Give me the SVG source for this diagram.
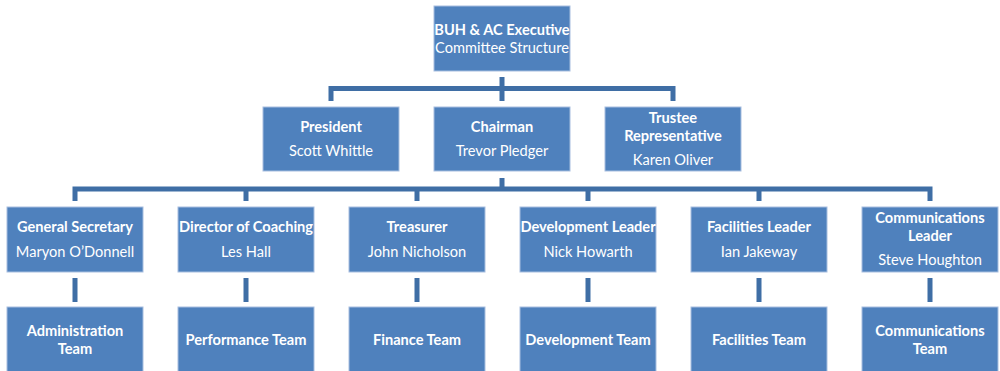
<svg xmlns="http://www.w3.org/2000/svg" width="1000" height="371" viewBox="0 0 1000 371">
<style>
.box{fill:#4F81BD;stroke:#A7BEDF;stroke-width:1}
.ln{fill:none;stroke:#3F6EA5;stroke-width:5;stroke-linejoin:miter;stroke-linecap:butt}
text{font-family:Lato,"Open Sans","Liberation Sans",sans-serif;font-size:14.6px;fill:#FFFFFF;text-anchor:middle}
.b{font-weight:bold}
</style>
<rect width="1000" height="371" fill="#FFFFFF"/>
<g id="connectors">
<path class="ln" d="M502,77 V88.5 M331,101 V88.5 H673 V101 M502,88.5 V101"/>
<path class="ln" d="M502,178 V189 M75,201 V189 H930 V201 M246,189 V201 M417,189 V201 M588,189 V201 M759,189 V201"/>
<path class="ln" d="M75,278 V302 M246,278 V302 M417,278 V302 M588,278 V302 M759,278 V302 M930,278 V302"/>
</g>
<g id="root"><rect class="box" x="434" y="6" width="136" height="65"/><text x="502" y="35" class="b">BUH &amp; AC Executive</text><text x="502" y="53">Committee Structure</text></g>
<g id="president"><rect class="box" x="263" y="107" width="136" height="64"/><text x="331" y="132" class="b">President</text><text x="331" y="156">Scott Whittle</text></g>
<g id="chairman"><rect class="box" x="434" y="107" width="136" height="64"/><text x="502" y="132" class="b">Chairman</text><text x="502" y="156">Trevor Pledger</text></g>
<g id="trustee"><rect class="box" x="605" y="107" width="136" height="64"/><text x="673" y="123" class="b">Trustee</text><text x="673" y="141" class="b">Representative</text><text x="673" y="165">Karen Oliver</text></g>
<g id="gensec"><rect class="box" x="7" y="207" width="136" height="65"/><text x="75" y="232" class="b">General Secretary</text><text x="75" y="257">Maryon O’Donnell</text></g>
<g id="coaching"><rect class="box" x="178" y="207" width="136" height="65"/><text x="246" y="232" class="b">Director of Coaching</text><text x="246" y="257">Les Hall</text></g>
<g id="treasurer"><rect class="box" x="349" y="207" width="136" height="65"/><text x="417" y="232" class="b">Treasurer</text><text x="417" y="257">John Nicholson</text></g>
<g id="devleader"><rect class="box" x="520" y="207" width="136" height="65"/><text x="588" y="232" class="b">Development Leader</text><text x="588" y="257">Nick Howarth</text></g>
<g id="facleader"><rect class="box" x="691" y="207" width="136" height="65"/><text x="759" y="232" class="b">Facilities Leader</text><text x="759" y="257">Ian Jakeway</text></g>
<g id="commleader"><rect class="box" x="862" y="207" width="136" height="65"/><text x="930" y="223" class="b">Communications</text><text x="930" y="241" class="b">Leader</text><text x="930" y="265">Steve Houghton</text></g>
<g id="adminteam"><rect class="box" x="7" y="307" width="136" height="65"/><text x="75" y="336" class="b">Administration</text><text x="75" y="354" class="b">Team</text></g>
<g id="perfteam"><rect class="box" x="178" y="307" width="136" height="65"/><text x="246" y="345" class="b">Performance Team</text></g>
<g id="finteam"><rect class="box" x="349" y="307" width="136" height="65"/><text x="417" y="345" class="b">Finance Team</text></g>
<g id="devteam"><rect class="box" x="520" y="307" width="136" height="65"/><text x="588" y="345" class="b">Development Team</text></g>
<g id="facteam"><rect class="box" x="691" y="307" width="136" height="65"/><text x="759" y="345" class="b">Facilities Team</text></g>
<g id="commteam"><rect class="box" x="862" y="307" width="136" height="65"/><text x="930" y="336" class="b">Communications</text><text x="930" y="354" class="b">Team</text></g>
</svg>
